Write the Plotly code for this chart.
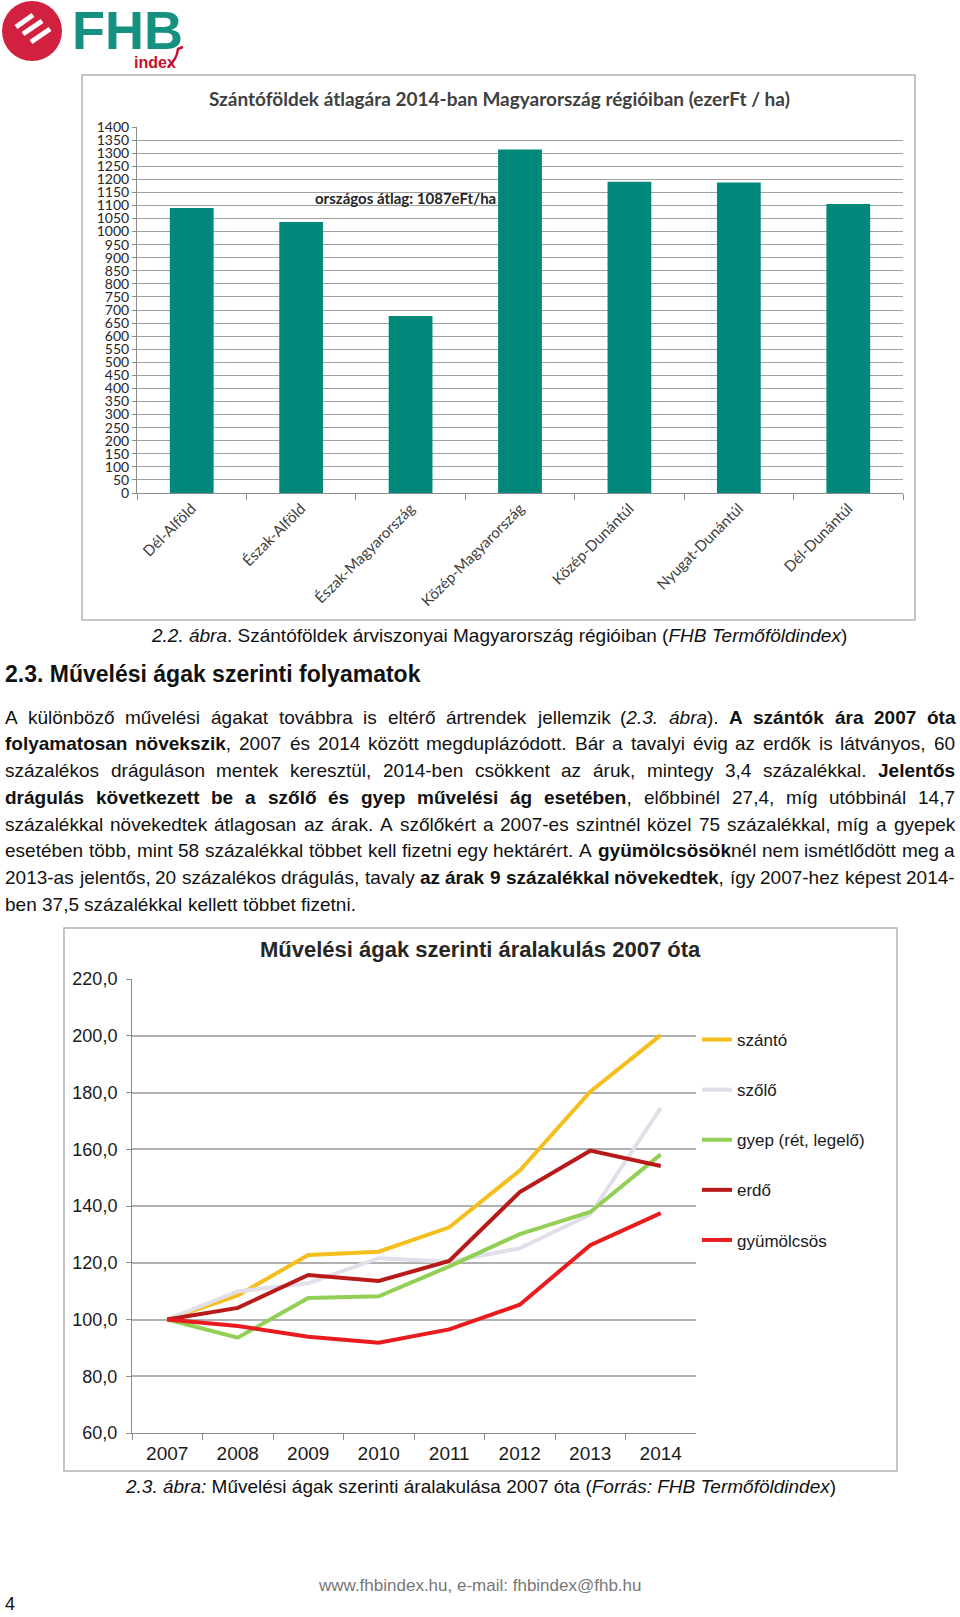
import plotly.graph_objects as go

W, H = 960, 1617


def px(x):
    return x / W


def py(y):
    return 1 - y / H


# ---------------- data ----------------
regions = ["Dél-Alföld", "Észak-Alföld", "Észak-Magyarország", "Közép-Magyarország",
           "Közép-Dunántúl", "Nyugat-Dunántúl", "Dél-Dunántúl"]
prices_2014 = [1090, 1037, 677, 1314, 1191, 1188, 1105]
avg_label = "országos átlag: 1087eFt/ha"
chart1_title = "Szántóföldek átlagára 2014-ban Magyarország régióiban (ezerFt / ha)"

years = ["2007", "2008", "2009", "2010", "2011", "2012", "2013", "2014"]
szanto = [100.0, 108.5, 122.7, 123.9, 132.5, 152.5, 180.3, 200.2]
szolo = [100.0, 109.9, 112.8, 121.6, 120.4, 125.1, 137.0, 174.6]
gyep = [100.0, 93.6, 107.6, 108.2, 118.7, 130.1, 137.9, 158.2]
erdo = [100.0, 104.1, 115.7, 113.6, 120.6, 144.9, 159.5, 154.1]
gyumolcsos = [100.0, 97.7, 93.9, 91.8, 96.5, 105.2, 126.2, 137.5]
series_names = ["szántó", "szőlő", "gyep (rét, legelő)", "erdő", "gyümölcsös"]
series_colors = ["#F4BF1C", "#E2DEEA", "#92CF55", "#B81A1A", "#E81C1E"]
chart2_title = "Művelési ágak szerinti áralakulás 2007 óta"

caption1 = "<i>2.2. ábra</i>. Szántóföldek árviszonyai Magyarország régióiban (<i>FHB Termőföldindex</i>)"
heading = "2.3. Művelési ágak szerinti folyamatok"
paragraph_lines = [
    "A különböző művelési ágakat továbbra is eltérő ártrendek jellemzik (<i>2.3. ábra</i>). <b>A szántók ára 2007 óta</b>",
    "<b>folyamatosan növekszik</b>, 2007 és 2014 között megduplázódott. Bár a tavalyi évig az erdők is látványos, 60",
    "százalékos dráguláson mentek keresztül, 2014-ben csökkent az áruk, mintegy 3,4 százalékkal. <b>Jelentős</b>",
    "<b>drágulás következett be a szőlő és gyep művelési ág esetében</b>, előbbinél 27,4, míg utóbbinál 14,7",
    "százalékkal növekedtek átlagosan az árak. A szőlőkért a 2007-es szintnél közel 75 százalékkal, míg a gyepek",
    "esetében több, mint 58 százalékkal többet kell fizetni egy hektárért. A <b>gyümölcsösök</b>nél nem ismétlődött meg a",
    "2013-as jelentős, 20 százalékos drágulás, tavaly <b>az árak 9 százalékkal növekedtek</b>, így 2007-hez képest 2014-",
    "ben 37,5 százalékkal kellett többet fizetni.",
]
caption2 = "<i>2.3. ábra:</i> Művelési ágak szerinti áralakulása 2007 óta (<i>Forrás: FHB Termőföldindex</i>)"
footer = "www.fhbindex.hu, e-mail: fhbindex@fhb.hu"
page_no = "4"

# ---------------- Arial / Liberation Sans metrics ----------------
REG = {' ': 278, '(': 333, ')': 333, ',': 278, '-': 333, '.': 278, ':': 278, '/': 278, '@': 1015}
BOLD = {' ': 278, '(': 333, ')': 333, ',': 278, '-': 333, '.': 278, ':': 333, '/': 278, '@': 975}
for d in '0123456789':
    REG[d] = 556
    BOLD[d] = 556
reg_lower = dict(a=556, b=556, c=500, d=556, e=556, f=278, g=556, h=556, i=222, j=222, k=500, l=222, m=833,
                 n=556, o=556, p=556, q=556, r=333, s=500, t=278, u=556, v=500, w=722, x=500, y=500, z=500)
bold_lower = dict(a=556, b=611, c=556, d=611, e=556, f=333, g=611, h=611, i=278, j=278, k=556, l=278, m=889,
                  n=611, o=611, p=611, q=611, r=389, s=556, t=333, u=611, v=556, w=778, x=556, y=556, z=500)
reg_upper = dict(A=667, B=667, C=722, D=722, E=667, F=611, G=778, H=722, I=278, J=500, K=667, L=556, M=833,
                 N=722, O=778, P=667, Q=778, R=722, S=667, T=611, U=722, V=667, W=944, X=667, Y=667, Z=611)
bold_upper = dict(A=722, B=722, C=722, D=722, E=667, F=611, G=778, H=722, I=278, J=556, K=722, L=611, M=833,
                  N=722, O=778, P=667, Q=778, R=722, S=667, T=611, U=722, V=667, W=944, X=667, Y=667, Z=611)
REG.update(reg_lower); REG.update(reg_upper)
BOLD.update(bold_lower); BOLD.update(bold_upper)
ACC = {'á': 'a', 'é': 'e', 'ó': 'o', 'ö': 'o', 'ő': 'o', 'ú': 'u', 'ü': 'u', 'ű': 'u',
       'Á': 'A', 'É': 'E', 'Ó': 'O', 'Ö': 'O', 'Ő': 'O', 'Ú': 'U', 'Ü': 'U', 'Ű': 'U'}


def char_w(c, bold):
    if c == 'í' or c == 'Í':
        return 278
    base = ACC.get(c, c)
    table = BOLD if bold else REG
    return table.get(base, 556)


def parse_words(markup):
    chars = []
    b = i = False
    k = 0
    while k < len(markup):
        for tag, val in (("<b>", ("b", True)), ("</b>", ("b", False)), ("<i>", ("i", True)), ("</i>", ("i", False))):
            if markup.startswith(tag, k):
                if val[0] == "b":
                    b = val[1]
                else:
                    i = val[1]
                k += len(tag)
                break
        else:
            chars.append((markup[k], b, i))
            k += 1
    words, cur = [], []
    for ch in chars:
        if ch[0] == ' ':
            if cur:
                words.append(cur)
            cur = []
        else:
            cur.append(ch)
    if cur:
        words.append(cur)
    out = []
    for wd in words:
        width = sum(char_w(c, bb) for c, bb, ii in wd) / 1000.0
        html, segs = "", []
        for c, bb, ii in wd:
            if segs and segs[-1][1] == bb and segs[-1][2] == ii:
                segs[-1][0] += c
            else:
                segs.append([c, bb, ii])
        for t, bb, ii in segs:
            if bb:
                t = "<b>" + t + "</b>"
            if ii:
                t = "<i>" + t + "</i>"
            html += t
        out.append((html, width))
    return out


fig = go.Figure()

# ---------------- chart 1: bars ----------------
fig.add_trace(go.Bar(x=regions, y=prices_2014, marker=dict(color="#00897B", line=dict(width=0)),
                     width=0.4, showlegend=False, xaxis="x", yaxis="y",
                     hovertemplate="%{x}: %{y}<extra></extra>"))

# ---------------- chart 2: lines ----------------
for name, vals, col in zip(series_names, [szanto, szolo, gyep, erdo, gyumolcsos], series_colors):
    fig.add_trace(go.Scatter(x=years, y=vals, mode="lines", name=name, legendgroup=name,
                             line=dict(color=col, width=4), xaxis="x2", yaxis="y2"))

F1 = "Lato, Carlito, Calibri, sans-serif"
F2 = "Liberation Sans, Arial, sans-serif"

fig.update_layout(
    width=W, height=H, margin=dict(l=0, r=0, t=0, b=0, autoexpand=False),
    paper_bgcolor="white", plot_bgcolor="white",
    separators=",.",
    xaxis=dict(domain=[px(137), px(903)], anchor="y", type="category", range=[-0.5, 6.5],
               showline=True, linecolor="#8C8C8C", linewidth=1,
               ticks="outside", tickson="boundaries", ticklen=6, tickcolor="#8C8C8C",
               tickangle=-45, tickfont=dict(family=F1, size=15, color="#404040"),
               showgrid=False, automargin=False),
    yaxis=dict(domain=[py(493), py(127)], anchor="x", range=[0, 1400], dtick=50,
               showline=True, linecolor="#8C8C8C", linewidth=1,
               ticks="outside", ticklen=4, tickcolor="#8C8C8C",
               gridcolor="#A0A0A0", gridwidth=1, automargin=False,
               tickfont=dict(family=F1, size=14, color="#262626"), zeroline=False),
    xaxis2=dict(domain=[px(132), px(696)], anchor="y2", type="category", range=[-0.5, 7.5],
                showline=True, linecolor="#8C8C8C", linewidth=1,
                ticks="outside", tickson="boundaries", ticklen=6, tickcolor="#8C8C8C",
                ticklabelstandoff=3,
                tickfont=dict(family=F2, size=19, color="#1A1A1A"), showgrid=False, automargin=False),
    yaxis2=dict(domain=[py(1433), py(979)], anchor="x2", range=[60, 220], dtick=20, tickformat=".1f",
                showline=True, linecolor="#8C8C8C", linewidth=1,
                ticks="outside", ticklen=5, tickcolor="#8C8C8C", ticklabelstandoff=5,
                gridcolor="#B0B0B0", gridwidth=1.5, automargin=False,
                tickfont=dict(family=F2, size=18, color="#1A1A1A"), zeroline=False),
    legend=dict(x=px(697), y=py(1022), xanchor="left", yanchor="top",
                font=dict(family=F2, size=17, color="#1A1A1A"),
                bgcolor="rgba(0,0,0,0)", itemwidth=30, tracegroupgap=25,
                traceorder="grouped"),
    showlegend=True,
)

shapes = []
# frames
shapes.append(dict(type="rect", xref="paper", yref="paper", x0=px(82), x1=px(915), y0=py(620), y1=py(75),
                   line=dict(color="#B4B4B4", width=1.5), fillcolor="rgba(0,0,0,0)", layer="below"))
shapes.append(dict(type="rect", xref="paper", yref="paper", x0=px(64), x1=px(897), y0=py(1471), y1=py(928),
                   line=dict(color="#B4B4B4", width=1.5), fillcolor="rgba(0,0,0,0)", layer="below"))
# logo
shapes.append(dict(type="circle", xref="paper", yref="paper", x0=px(2), x1=px(62), y0=py(61), y1=py(1),
                   fillcolor="#D1213F", line=dict(width=0)))
for (xa, ya, xb, yb) in [(16, 27, 33, 15), (23, 34, 42, 21), (31, 42, 50, 29)]:
    shapes.append(dict(type="line", xref="paper", yref="paper", x0=px(xa), y0=py(ya), x1=px(xb), y1=py(yb),
                       line=dict(color="white", width=5)))
shapes.append(dict(type="path", xref="paper", yref="paper",
                   path=f"M {px(168)} {py(67)} Q {px(177)} {py(59)} {px(178)} {py(49)} L {px(183)} {py(47)}",
                   line=dict(color="#C8102E", width=2.5)))
fig.update_layout(shapes=shapes)

ann = []


def add_text(text, x, y, size, family=F2, color="#111111", xanchor="left", yanchor="middle", **kw):
    ann.append(dict(text=text, x=px(x), y=py(y), xref="paper", yref="paper", showarrow=False,
                    xanchor=xanchor, yanchor=yanchor, borderpad=0, borderwidth=0,
                    font=dict(family=family, size=size, color=color), **kw))


# logo text
add_text("<b>FHB</b>", 72, 30, 54, color="#16907F")
add_text("<b>index</b>", 134, 62, 16, family="Liberation Sans Narrow, Liberation Sans, Arial", color="#C8102E")

# chart titles and annotation
add_text("<b>" + chart1_title + "</b>", 499, 99, 19, family=F1, color="#404040", xanchor="center")
add_text("<b>" + avg_label + "</b>", 405, 198, 15, family=F1, color="#262626", xanchor="center")
add_text("<b>" + chart2_title + "</b>", 480, 949, 22, family=F2, color="#262626", xanchor="center")

# captions / heading
add_text(caption1, 499, 635, 19, xanchor="center")
add_text("<b>" + heading + "</b>", 5, 674, 23)
add_text(caption2, 480, 1486, 19, xanchor="center")
add_text(footer, 480, 1585, 17, color="#777777", xanchor="center")
add_text(page_no, 5, 1604, 18)

# justified paragraph
FS = 19
L, R = 5, 955
line_y0, line_dy = 717, 26.75
for li, line in enumerate(paragraph_lines):
    words = parse_words(line)
    y = line_y0 + li * line_dy
    ws = [w * FS for _, w in words]
    if li == len(paragraph_lines) - 1:
        gap = 0.278 * FS
    else:
        gap = (R - L - sum(ws)) / (len(words) - 1)
    x = L
    for (html, _), w in zip(words, ws):
        add_text(html, x, y, FS)
        x += w + gap

fig.update_layout(annotations=ann)

fig.write_html("out.html", config={"displayModeBar": False},
               post_script="document.body.style.margin='0px';document.body.style.overflow='hidden';")
